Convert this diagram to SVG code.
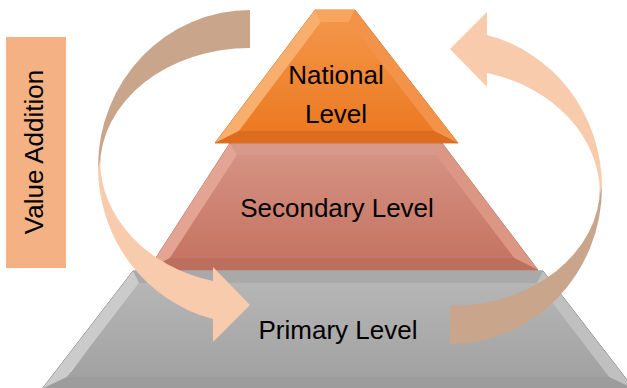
<svg xmlns="http://www.w3.org/2000/svg" width="627" height="388" viewBox="0 0 627 388">
<defs>
<linearGradient id="gNat" x1="0" y1="0" x2="0" y2="1"><stop offset="0" stop-color="#F39548"/><stop offset="1" stop-color="#EC7A22"/></linearGradient>
<linearGradient id="gSec" x1="0" y1="0" x2="0" y2="1"><stop offset="0" stop-color="#D59282"/><stop offset="1" stop-color="#C67463"/></linearGradient>
<linearGradient id="gPri" x1="0" y1="0" x2="0" y2="1"><stop offset="0" stop-color="#B6B6B6"/><stop offset="1" stop-color="#A2A2A2"/></linearGradient>
<style>
.lbl{font-family:"Liberation Sans",Arial,sans-serif;font-size:26px;fill:#000;text-anchor:middle}
.dark{fill:#C9A58B}
.light{fill:#F8CBAD}
</style>
</defs>
<g id="primary">
<polygon points="133,271 543,271 634,389 42,389" fill="url(#gPri)" stroke="#7A7A7A" stroke-width="1"/>
<polygon points="133,271 543,271 537,283 139,283" fill="#A9A9A9"/>
<polygon points="133,271 139,283 67,377 42,389" fill="#CBCBCB"/>
<polygon points="143,284 147,284 72,372 70,372" fill="#F4F4F4" opacity="0.8"/>
<polygon points="543,271 634,389 609,377 537,283" fill="#C0C0C0"/>
<polygon points="67,377 609,377 634,389 42,389" fill="#9C9C9C"/>
<polygon points="139,283 537,283 609,377 67,377" fill="url(#gPri)"/>
<text class="lbl" x="338" y="339">Primary Level</text>
</g>
<g id="secondary">
<polygon points="230,143 442,143 538,270 148,270" fill="url(#gSec)" stroke="#A86050" stroke-width="0.8"/>
<polygon points="230,143 442,143 436,155 237,155" fill="#D7998A"/>
<polygon points="230,143 237,155 170,258 148,270" fill="#E3A493"/>
<polygon points="538,270 442,143 436,155 514,258" fill="#DB9684"/>
<polygon points="170,258 514,258 538,270 148,270" fill="#BC6F5C"/>
<polygon points="237,155 436,155 514,258 170,258" fill="url(#gSec)"/>
<text class="lbl" x="337" y="217">Secondary Level</text>
</g>
<g id="national">
<polygon points="315,10 355,10 458,143 215,143" fill="url(#gNat)" stroke="#C8651A" stroke-width="0.8"/>
<polygon points="315,10 355,10 349,22 321,22" fill="#F6A45E"/>
<polygon points="315,10 321,22 239,131 215,143" fill="#F8AE6C"/>
<polygon points="355,10 458,143 434,131 349,22" fill="#F39249"/>
<polygon points="239,131 434,131 458,143 215,143" fill="#DC6D1E"/>
<polygon points="321,22 349,22 434,131 239,131" fill="url(#gNat)"/>
<text class="lbl" x="336" y="84">National</text>
<text class="lbl" x="336" y="123">Level</text>
</g>
<g id="value-addition">
<rect x="6" y="37" width="60" height="231" fill="#F4B183"/>
<text class="lbl" transform="translate(43 152) rotate(-90)">Value Addition</text>
</g>
<g id="connectors">
<g id="arrow-down">
<path class="dark" d="M250,10 A152,157 0 0 0 98,167 L100,167 A150,119 0 0 1 250,48 Z"/>
<path class="light" d="M98,167 A152,157 0 0 0 213,319 L213,342 L250,305 L213,267 L213,281 A150,125 0 0 1 100,160 Z"/>
</g>
<g id="arrow-up" transform="rotate(180 350 177)">
<path class="dark" d="M250,10 A152,157 0 0 0 98,167 L100,167 A150,119 0 0 1 250,48 Z"/>
<path class="light" d="M98,167 A152,157 0 0 0 213,319 L213,342 L250,305 L213,267 L213,281 A150,125 0 0 1 100,160 Z"/>
</g>
</g>
</svg>
